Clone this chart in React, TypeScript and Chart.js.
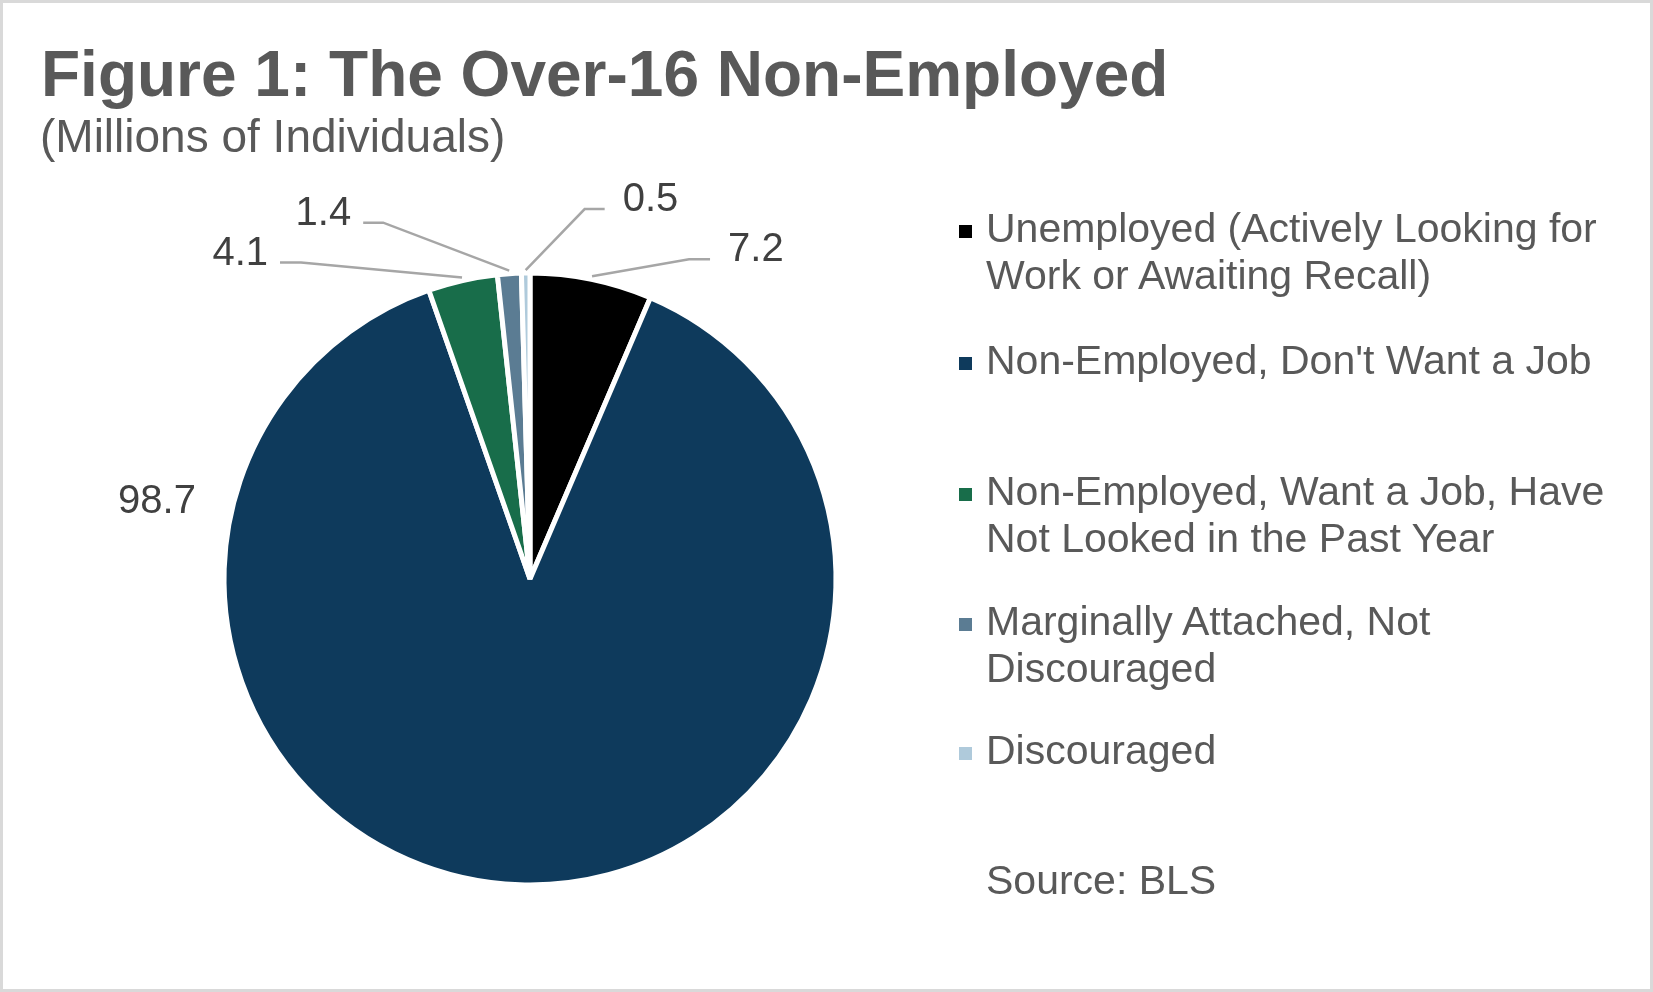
import { useEffect, useRef } from "react"
import { Chart, registerables } from "chart.js"

Chart.register(...registerables)

// Data (millions of individuals, BLS)
const categories = [
  ["Unemployed (Actively Looking for", "Work or Awaiting Recall)"],
  ["Non-Employed, Don't Want a Job"],
  ["Non-Employed, Want a Job, Have", "Not Looked in the Past Year"],
  ["Marginally Attached, Not", "Discouraged"],
  ["Discouraged"],
]
const values = [7.2, 98.7, 4.1, 1.4, 0.5]
const colors = ["#000000", "#0e3a5c", "#186d4a", "#5b7c93", "#afcadb"]

const FONT = '"Liberation Sans", Arial, Helvetica, sans-serif'
const TEXT = "#595959"

// leader line layout for each data label (offsets from the slice edge)
const labelLayout: ({ dx: number; dy: number; run: number } | { cx: number; cy: number })[] = [
  { dx: 97, dy: -17, run: 21 },
  { cx: -373, cy: -77 },
  { dx: -161, dy: -15, run: -21 },
  { dx: -126, dy: -48, run: -20 },
  { dx: 59, dy: -61, run: 20 },
]

const legendTops = [205, 337, 468, 598, 727]

const dataLabels = {
  id: "dataLabels",
  afterDatasetsDraw(chart: Chart) {
    const ctx = chart.ctx
    const meta = chart.getDatasetMeta(0)
    ctx.save()
    ctx.font = `40px ${FONT}`
    ctx.fillStyle = "#404040"
    ctx.strokeStyle = "#a6a6a6"
    ctx.lineWidth = 2.5
    meta.data.forEach((el: any, i: number) => {
      const { x, y, startAngle, endAngle, outerRadius } = el.getProps(
        ["x", "y", "startAngle", "endAngle", "outerRadius"],
        true
      )
      const text = String(values[i])
      const lay: any = labelLayout[i]
      if (lay.cx !== undefined) {
        ctx.textAlign = "center"
        ctx.textBaseline = "middle"
        ctx.fillText(text, x + lay.cx, y + lay.cy)
        return
      }
      const mid = (startAngle + endAngle) / 2
      const ax = x + Math.cos(mid) * (outerRadius + 3)
      const ay = y + Math.sin(mid) * (outerRadius + 3)
      const ex = ax + lay.dx
      const ey = ay + lay.dy
      const hx = ex + lay.run
      ctx.beginPath()
      ctx.moveTo(ax, ay)
      ctx.lineTo(ex, ey)
      ctx.lineTo(hx, ey)
      ctx.stroke()
      ctx.textBaseline = "alphabetic"
      if (lay.run > 0) {
        ctx.textAlign = "left"
        ctx.fillText(text, hx + 18, ey + 2)
      } else {
        ctx.textAlign = "right"
        ctx.fillText(text, hx - 12, ey + 2)
      }
    })
    ctx.restore()
  },
}

function PieChart() {
  const chartRef = useRef<HTMLCanvasElement>(null)
  const chartInstance = useRef<Chart | null>(null)

  useEffect(() => {
    if (!chartRef.current) return
    if (chartInstance.current) chartInstance.current.destroy()
    const ctx = chartRef.current.getContext("2d")
    if (!ctx) return

    chartInstance.current = new Chart(ctx, {
      type: "pie",
      data: {
        labels: categories.map((c) => c.join(" ")),
        datasets: [
          {
            data: values,
            backgroundColor: colors,
            borderColor: "#ffffff",
            borderWidth: 5,
          },
        ],
      },
      options: {
        responsive: true,
        maintainAspectRatio: false,
        animation: false,
        radius: 306,
        layout: { padding: { left: 210, right: 803, top: 259, bottom: 93 } },
        plugins: {
          legend: { display: false },
          tooltip: { enabled: false },
        },
      },
      plugins: [dataLabels],
    })

    return () => {
      if (chartInstance.current) {
        chartInstance.current.destroy()
        chartInstance.current = null
      }
    }
  }, [])

  return (
    <div style={{ position: "absolute", left: 0, top: 0, width: 1653, height: 992 }}>
      <canvas ref={chartRef} />
    </div>
  )
}

export default function App() {
  return (
    <div
      style={{
        position: "absolute",
        left: 0,
        top: 0,
        width: 1653,
        height: 992,
        background: "#ffffff",
        boxShadow: "inset 0 0 0 3px #d9d9d9",
        fontFamily: FONT,
        color: TEXT,
        overflow: "hidden",
      }}
    >
      <PieChart />
      <div
        style={{
          position: "absolute",
          left: 41,
          top: 42,
          fontSize: 64,
          lineHeight: "64px",
          fontWeight: "bold",
          whiteSpace: "nowrap",
        }}
      >
        Figure 1: The Over-16 Non-Employed
      </div>
      <div
        style={{
          position: "absolute",
          left: 40,
          top: 113,
          fontSize: 46,
          lineHeight: "46px",
          whiteSpace: "nowrap",
        }}
      >
        (Millions of Individuals)
      </div>
      {categories.map((lines, i) => (
        <div
          key={i}
          style={{
            position: "absolute",
            left: 959,
            top: legendTops[i],
            fontSize: 41,
            lineHeight: "47px",
            whiteSpace: "nowrap",
          }}
        >
          <span
            style={{
              position: "absolute",
              left: 0,
              top: 20,
              width: 13,
              height: 13,
              background: colors[i],
            }}
          />
          <div style={{ marginLeft: 27 }}>
            {lines.map((l, j) => (
              <div key={j}>{l}</div>
            ))}
          </div>
        </div>
      ))}
      <div
        style={{
          position: "absolute",
          left: 986,
          top: 857,
          fontSize: 41,
          lineHeight: "47px",
          whiteSpace: "nowrap",
        }}
      >
        Source: BLS
      </div>
    </div>
  )
}
